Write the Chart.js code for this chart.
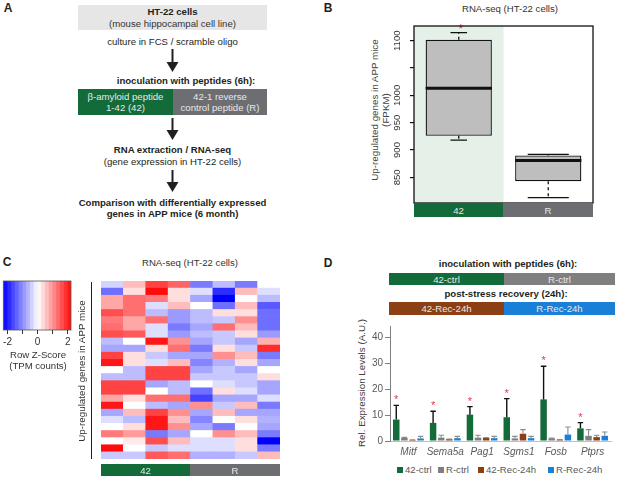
<!DOCTYPE html>
<html><head><meta charset="utf-8">
<script src="https://cdn.jsdelivr.net/npm/chart.js@4.4.1/dist/chart.umd.min.js"></script>
<style>
html,body{margin:0;padding:0;background:#fff;}
body{width:617px;height:480px;position:relative;overflow:hidden;font-family:"Liberation Sans",Arial,Helvetica,sans-serif;color:#231f20;}
.t{position:absolute;white-space:nowrap;transform:translate(-50%,-50%);font-size:9.6px;line-height:1;}
.b{font-weight:bold;}
.L{font-weight:bold;font-size:12px;}
.rot{position:absolute;white-space:nowrap;transform:translate(-50%,-50%) rotate(-90deg);font-size:9.8px;line-height:1;}
.box{position:absolute;}
canvas{position:absolute;}
svg{position:absolute;}
.lg{position:absolute;top:465px;font-size:9.6px;color:#595959;white-space:nowrap;line-height:10px;}
.lg i{display:inline-block;width:6px;height:6px;margin-right:2px;vertical-align:0px;}
</style></head>
<body>
<!-- Panel A -->
<div class="t L" style="left:8px;top:8px">A</div>
<div class="box" style="left:78px;top:5px;width:189px;height:25px;background:#e6e6e7"></div>
<div class="t b" style="left:172.5px;top:12px">HT-22 cells</div>
<div class="t" style="left:172.5px;top:24px;color:#333">(mouse hippocampal cell line)</div>
<div class="t" style="left:172.5px;top:42px">culture in FCS / scramble oligo</div>
<svg style="left:166px;top:49px" width="13" height="24"><line x1="6.5" y1="0" x2="6.5" y2="14" stroke="#231f20" stroke-width="2"/><polygon points="0.5,13 12.5,13 6.5,23" fill="#231f20"/></svg>
<div class="t b" style="left:186px;top:81px">inoculation with peptides (6h):</div>
<div class="box" style="left:78px;top:89px;width:95px;height:26px;background:#146b3a"></div>
<div class="box" style="left:173px;top:89px;width:94px;height:26px;background:#6d6e71"></div>
<div class="t" style="left:125.5px;top:97px;color:#e8e8e8">β-amyloid peptide</div>
<div class="t" style="left:125.5px;top:108px;color:#e8e8e8">1-42 (42)</div>
<div class="t" style="left:220px;top:97px;color:#e8e8e8">42-1 reverse</div>
<div class="t" style="left:220px;top:108px;color:#e8e8e8">control peptide (R)</div>
<svg style="left:166px;top:118px" width="13" height="24"><line x1="6.5" y1="0" x2="6.5" y2="13" stroke="#231f20" stroke-width="2"/><polygon points="0.5,12 12.5,12 6.5,22" fill="#231f20"/></svg>
<div class="t b" style="left:172.5px;top:150px">RNA extraction / RNA-seq</div>
<div class="t" style="left:172.5px;top:162px">(gene expression in HT-22 cells)</div>
<svg style="left:166px;top:170px" width="13" height="24"><line x1="6.5" y1="0" x2="6.5" y2="13" stroke="#231f20" stroke-width="2"/><polygon points="0.5,12 12.5,12 6.5,22" fill="#231f20"/></svg>
<div class="t b" style="left:172.5px;top:203px">Comparison with differentially expressed</div>
<div class="t b" style="left:172.5px;top:214px">genes in APP mice (6 month)</div>

<!-- Panel B -->
<div class="t L" style="left:328px;top:8px">B</div>
<div class="t" style="left:510px;top:9px;color:#333">RNA-seq (HT-22 cells)</div>
<div class="rot" style="left:375px;top:110px;color:#444">Up-regulated genes in APP mice</div>
<div class="rot" style="left:386px;top:110px;color:#444">(FPKM)</div>
<canvas id="cB" width="240" height="190" style="left:360px;top:20px;width:240px;height:190px"></canvas>
<div class="box" style="left:414px;top:203px;width:89px;height:14px;background:#146b3a"></div>
<div class="box" style="left:503px;top:203px;width:90px;height:14px;background:#6d6e71"></div>
<div class="t" style="left:458.5px;top:210.5px;color:#e8e8e8">42</div>
<div class="t" style="left:548px;top:210.5px;color:#e8e8e8">R</div>

<!-- Panel C -->
<div class="t L" style="left:7px;top:262px">C</div>
<div class="t" style="left:190px;top:263px;color:#333">RNA-seq (HT-22 cells)</div>
<canvas id="cKey" width="80" height="71" style="left:0px;top:279px;width:80px;height:71px"></canvas>
<div class="t" style="left:38px;top:355px;color:#333">Row Z-Score</div>
<div class="t" style="left:38px;top:366px;color:#333">(TPM counts)</div>
<div class="box" style="left:91px;top:282px;width:1px;height:177px;background:#231f20"></div>
<div class="rot" style="left:82px;top:371px;color:#333">Up-regulated genes in APP mice</div>
<canvas id="cC" width="179" height="178" style="left:101px;top:281px;width:179px;height:178px"></canvas>
<div class="box" style="left:101px;top:464px;width:89px;height:12px;background:#146b3a"></div>
<div class="box" style="left:190px;top:464px;width:90px;height:12px;background:#6d6e71"></div>
<div class="t" style="left:145.5px;top:470.5px;color:#e8e8e8">42</div>
<div class="t" style="left:235px;top:470.5px;color:#e8e8e8">R</div>

<!-- Panel D -->
<div class="t L" style="left:328px;top:263px">D</div>
<div class="t b" style="left:508px;top:264px">inoculation with peptides (6h):</div>
<div class="box" style="left:389px;top:273px;width:115px;height:12px;background:#146b3a"></div>
<div class="box" style="left:504px;top:273px;width:111px;height:12px;background:#7f7f7f"></div>
<div class="t" style="left:446.5px;top:279.5px;color:#e8e8e8">42-ctrl</div>
<div class="t" style="left:559.5px;top:279.5px;color:#e8e8e8">R-ctrl</div>
<div class="t b" style="left:506px;top:294px">post-stress recovery (24h):</div>
<div class="box" style="left:389px;top:302px;width:115px;height:13px;background:#8b3f12"></div>
<div class="box" style="left:504px;top:302px;width:111px;height:13px;background:#1a7fd6"></div>
<div class="t" style="left:446.5px;top:309px;color:#e8e8e8">42-Rec-24h</div>
<div class="t" style="left:559.5px;top:309px;color:#e8e8e8">R-Rec-24h</div>
<div class="rot" style="left:362px;top:383px;color:#404040">Rel. Expression Levels (A.U.)</div>
<canvas id="cD" width="277" height="143" style="left:340px;top:318px;width:277px;height:143px"></canvas>
<div id="legD"></div>

<script>
// ---------- Panel B data (boxplot, FPKM) ----------
const bGroups = ['42', 'R'];
const bWhiskerLow = [918, 813];
const bQ1 = [926, 843];
const bMedian = [1013, 881];
const bQ3 = [1102, 890];
const bWhiskerHigh = [1115, 892];
const bSignificant = [true, false];
const bTickValues = [850, 900, 950, 1000, 1050, 1100];
const bTickLabels = ['850', '900', '950', '1000', '', '1100'];

// ---------- Panel C data (row z-scores, 8 samples) ----------
const cColumns = ['42-a', '42-b', '42-c', '42-d', 'R-a', 'R-b', 'R-c', 'R-d'];
const cRow01 = [-0.4, 0.6, 1.7, 1.4, -1.2, -0.6, -1.2, 0.0];
const cRow02 = [-1.3, 0.3, 2.2, 0.3, -0.3, -1.9, 0.6, -0.3];
const cRow03 = [0.8, 1.3, 1.2, 0.3, -0.8, -2.3, 0.0, -0.6];
const cRow04 = [0.8, 1.3, -0.3, 0.6, 0.0, -1.3, 0.6, -1.5];
const cRow05 = [1.6, 1.3, -0.6, -0.9, -0.6, 0.3, 0.3, -1.3];
const cRow06 = [1.2, 0.8, 1.3, -0.9, -0.6, -0.5, 1.0, -1.3];
const cRow07 = [1.3, 0.8, -0.3, -1.2, -0.8, 1.3, 0.6, -1.3];
const cRow08 = [1.6, 1.5, -0.3, -0.9, -0.6, -0.5, 0.3, -0.9];
const cRow09 = [-0.6, 0.0, 2.1, 1.0, -0.8, -0.5, -0.8, 0.7];
const cRow10 = [-0.8, -0.8, 0.3, 1.3, -1.2, 0.3, -0.5, 1.9];
const cRow11 = [1.7, 0.3, -0.5, -0.8, -0.8, 1.0, 0.6, -1.2];
const cRow12 = [2.1, 0.3, -0.3, 0.6, -1.1, -0.7, 0.3, -0.8];
const cRow13 = [0.0, -0.6, 1.7, 1.7, -0.8, -0.5, -0.8, 0.0];
const cRow14 = [-0.6, -0.6, 1.7, 1.7, -0.5, -0.5, -0.5, 0.3];
const cRow15 = [1.7, 1.7, -0.8, -0.6, 0.0, -0.3, -0.5, -0.8];
const cRow16 = [1.7, 1.7, 0.0, -0.6, -1.3, 0.3, -0.3, -0.8];
const cRow17 = [0.8, 0.3, 1.3, 1.3, -1.7, -0.8, -0.8, -0.3];
const cRow18 = [2.1, 0.0, -0.6, -0.8, 1.0, -0.5, 0.6, -1.2];
const cRow19 = [-0.8, 0.6, 1.7, 1.0, -0.8, 0.6, -0.8, -0.8];
const cRow20 = [-0.3, -0.6, 2.1, 0.6, -1.1, 0.0, 0.3, -0.7];
const cRow21 = [0.0, 0.3, 2.1, 1.0, -0.8, -1.2, 0.0, -0.8];
const cRow22 = [1.2, 0.9, -1.2, -0.8, 0.0, 1.0, 0.6, -1.2];
const cRow23 = [0.0, 0.2, 1.6, 0.6, -0.3, -0.3, 0.3, -2.3];
const cRow24 = [2.2, 0.0, -0.5, -0.3, -0.3, -0.3, 0.3, -1.2];
const cRow25 = [-0.5, -0.5, 1.5, 1.3, -0.7, -0.7, -0.5, 0.6];
const cRows = [cRow01, cRow02, cRow03, cRow04, cRow05, cRow06, cRow07, cRow08, cRow09, cRow10,
  cRow11, cRow12, cRow13, cRow14, cRow15, cRow16, cRow17, cRow18, cRow19, cRow20,
  cRow21, cRow22, cRow23, cRow24, cRow25];
const cKeyTickValues = [-2, -1, 0, 1, 2];
const cKeyTickLabels = ['-2', '', '0', '', '2'];
const cKeyMin = -2.28, cKeyMax = 2.22;

// ---------- Panel D data (qPCR, mean and upper error) ----------
const dGenes = ['Mitf', 'Sema5a', 'Pag1', 'Sgms1', 'Fosb', 'Ptprs'];
const dSeriesNames = ['42-ctrl', 'R-ctrl', '42-Rec-24h', 'R-Rec-24h'];
const d42ctrl = [8.3, 7.0, 10.2, 9.2, 16.1, 4.9];
const d42ctrlErr = [5.5, 4.5, 3.1, 7.2, 12.8, 2.2];
const dRctrl = [1.2, 1.3, 1.3, 1.0, 1.0, 2.0];
const dRctrlErr = [0.2, 0.9, 0.9, 0.8, 0.1, 2.4];
const d42Rec = [0.4, 0.7, 1.2, 2.8, 0.5, 1.5];
const d42RecErr = [0.1, 0.1, 0.1, 1.6, 0.1, 0.7];
const dRRec = [1.0, 1.1, 1.1, 1.1, 2.5, 2.0];
const dRRecErr = [0.8, 0.7, 0.7, 0.7, 2.9, 1.5];
const dSignificant = [true, true, true, true, true, true];
const dTickValues = [0, 10, 20, 30, 40];

// ---------- helpers ----------
function zColor(z) {
  const t = Math.max(-1, Math.min(1, z / 2.3));
  if (t < 0) { const v = Math.round(255 * (1 + t)); return `rgb(${v},${v},255)`; }
  const v = Math.round(255 * (1 - t)); return `rgb(255,${v},${v})`;
}
const FONT = '"Liberation Sans", Arial, sans-serif';
Chart.defaults.font.family = FONT;
Chart.defaults.animation = false;
const base = { responsive: false, devicePixelRatio: 1, animation: false,
  plugins: { legend: { display: false }, tooltip: { enabled: false } } };

// ---------- Chart B ----------
const bStaple = [0.25, 0.62];
const boxPlugin = {
  id: 'boxPlugin',
  beforeDatasetsDraw(chart) {
    const { ctx, chartArea: a, scales: { x } } = chart;
    ctx.save();
    ctx.fillStyle = '#e4f0e8';
    ctx.fillRect(a.left, a.top, x.getPixelForValue(0.5) - a.left, a.bottom - a.top);
    ctx.restore();
  },
  afterDatasetsDraw(chart) {
    const { ctx, chartArea: a, scales: { y } } = chart;
    const meta = chart.getDatasetMeta(0);
    ctx.save();
    meta.data.forEach((el, i) => {
      const cx = el.x, w = el.width;
      const yq1 = y.getPixelForValue(bQ1[i]), yq3 = y.getPixelForValue(bQ3[i]);
      const ylo = y.getPixelForValue(bWhiskerLow[i]), yhi = y.getPixelForValue(bWhiskerHigh[i]);
      ctx.strokeStyle = '#111'; ctx.lineWidth = 1.3;
      ctx.setLineDash([3, 3]);
      ctx.beginPath(); ctx.moveTo(cx, yq3); ctx.lineTo(cx, yhi); ctx.moveTo(cx, yq1); ctx.lineTo(cx, ylo); ctx.stroke();
      ctx.setLineDash([]);
      const sw = w * bStaple[i] / 2;
      ctx.beginPath(); ctx.moveTo(cx - sw, yhi); ctx.lineTo(cx + sw, yhi); ctx.moveTo(cx - sw, ylo); ctx.lineTo(cx + sw, ylo); ctx.stroke();
      ctx.lineWidth = 3;
      const ym = y.getPixelForValue(bMedian[i]);
      ctx.beginPath(); ctx.moveTo(cx - w / 2, ym); ctx.lineTo(cx + w / 2, ym); ctx.stroke();
      if (bSignificant[i]) {
        ctx.fillStyle = '#e8344e'; ctx.font = '12px ' + FONT; ctx.textAlign = 'center'; ctx.textBaseline = 'middle';
        ctx.fillText('*', cx + 2, yhi - 3);
      }
    });
    ctx.lineWidth = 1.3; ctx.strokeStyle = '#111';
    ctx.strokeRect(a.left, a.top, a.right - a.left, a.bottom - a.top);
    ctx.fillStyle = '#333'; ctx.font = '9.6px ' + FONT; ctx.textAlign = 'center'; ctx.textBaseline = 'middle';
    bTickValues.forEach((v, i) => {
      if (!bTickLabels[i]) return;
      ctx.save();
      ctx.translate(a.left - 17, y.getPixelForValue(v));
      ctx.rotate(-Math.PI / 2);
      ctx.fillText(bTickLabels[i], 0, 0);
      ctx.restore();
    });
    ctx.restore();
  }
};
new Chart(document.getElementById('cB'), {
  type: 'bar',
  data: { labels: bGroups, datasets: [{ data: bGroups.map((g, i) => [bQ1[i], bQ3[i]]),
    backgroundColor: '#bebebe', borderColor: '#111', borderWidth: 1.3, borderSkipped: false,
    barPercentage: 0.74, categoryPercentage: 1 }] },
  options: { ...base,
    layout: { padding: { top: 6, right: 7, bottom: 7, left: 0 } },
    scales: {
      x: { display: false },
      y: { min: 803, max: 1127,
        afterFit: s => { s.width = 54; },
        afterBuildTicks: s => { s.ticks = bTickValues.map(v => ({ value: v })); },
        ticks: { display: false },
        grid: { drawOnChartArea: false, drawTicks: true, tickLength: 4, color: '#111', lineWidth: 1.2 },
        border: { display: false } }
    } },
  plugins: [boxPlugin]
});

// ---------- Color key (C) ----------
const keyBins = [];
for (let k = 0; k < 18; k++) keyBins.push(cKeyMin + k * (cKeyMax - cKeyMin) / 18);
const keyBorder = { id: 'keyBorder', afterDatasetsDraw(chart) {
  const { ctx, chartArea: a } = chart; ctx.save(); ctx.strokeStyle = '#555'; ctx.lineWidth = 0.8;
  ctx.strokeRect(a.left, a.top, a.right - a.left, a.bottom - a.top); ctx.restore(); } };
const binW = (cKeyMax - cKeyMin) / 18;
new Chart(document.getElementById('cKey'), {
  type: 'bar',
  data: { labels: ['key'], datasets: keyBins.map(lo => ({ data: [[lo, lo + binW]],
    backgroundColor: zColor(lo + binW / 2), borderWidth: 0, barPercentage: 1, categoryPercentage: 1, grouped: false })) },
  options: { ...base, indexAxis: 'y',
    layout: { padding: { top: 2, left: 3.3, right: 9, bottom: 0 } },
    scales: {
      y: { display: false },
      x: { min: cKeyMin, max: cKeyMax,
        afterBuildTicks: s => { s.ticks = cKeyTickValues.map(v => ({ value: v })); },
        afterFit: s => { s.height = 20; },
        ticks: { callback: (v, i) => cKeyTickLabels[i], color: '#333', font: { size: 10 }, padding: 2, maxRotation: 0, autoSkip: false },
        grid: { drawOnChartArea: false, tickLength: 4, color: '#333' },
        border: { display: false } }
    } },
  plugins: [keyBorder]
});

// ---------- Heatmap C ----------
new Chart(document.getElementById('cC'), {
  type: 'bar',
  data: { labels: cColumns, datasets: cRows.slice().reverse().map(r => ({
    data: r.map(() => 1), backgroundColor: r.map(zColor), borderWidth: 0,
    barPercentage: 1, categoryPercentage: 1 })) },
  options: { ...base, layout: { padding: 0 },
    scales: { x: { display: false, stacked: true }, y: { display: false, stacked: true, min: 0, max: cRows.length } } }
});

// ---------- Chart D ----------
const dColors = ['#146b3a', '#7f7f7f', '#8b3f12', '#1a7fd6'];
const dErrColors = ['#111', '#8c8c8c', '#8c8c8c', '#8c8c8c'];
const dValues = [d42ctrl, dRctrl, d42Rec, dRRec];
const dErrs = [d42ctrlErr, dRctrlErr, d42RecErr, dRRecErr];
const errPlugin = { id: 'errPlugin', afterDatasetsDraw(chart) {
  const { ctx, scales: { y } } = chart;
  ctx.save();
  chart.data.datasets.forEach((ds, di) => {
    const meta = chart.getDatasetMeta(di);
    meta.data.forEach((el, j) => {
      const top = y.getPixelForValue(dValues[di][j] + dErrs[di][j]);
      const hw = el.width * 0.42;
      ctx.strokeStyle = dErrColors[di]; ctx.lineWidth = di === 0 ? 1.4 : 1.1;
      ctx.beginPath(); ctx.moveTo(el.x, el.y); ctx.lineTo(el.x, top);
      ctx.moveTo(el.x - hw, top); ctx.lineTo(el.x + hw, top); ctx.stroke();
      if (di === 0 && dSignificant[j]) {
        ctx.fillStyle = '#e8344e'; ctx.font = '11px ' + FONT; ctx.textAlign = 'center'; ctx.textBaseline = 'middle';
        ctx.fillText('*', el.x, top - 5);
      }
    });
  });
  ctx.restore();
} };
new Chart(document.getElementById('cD'), {
  type: 'bar',
  data: { labels: dGenes, datasets: dSeriesNames.map((n, i) => ({ label: n, data: dValues[i],
    backgroundColor: dColors[i], borderWidth: 0, barPercentage: 0.8, categoryPercentage: 0.88 })) },
  options: { ...base,
    layout: { padding: { top: 4, right: 6, left: 0, bottom: 0 } },
    scales: {
      x: { grid: { display: false, drawTicks: false }, border: { color: '#bfbfbf' },
        afterFit: s => { s.height = 20; },
        ticks: { color: '#595959', font: { size: 10, style: 'italic' }, padding: 5, maxRotation: 0, autoSkip: false } },
      y: { min: 0, max: 44.5,
        afterBuildTicks: s => { s.ticks = dTickValues.map(v => ({ value: v })); },
        afterFit: s => { s.width = 50; },
        ticks: { color: '#595959', font: { size: 10 }, padding: 2 },
        grid: { drawOnChartArea: false, tickLength: 5, color: '#7f7f7f' },
        border: { color: '#7f7f7f' } }
    } },
  plugins: [errPlugin]
});

// legend D
const legPos = [397, 438, 478, 548];
const leg = document.getElementById('legD');
dSeriesNames.forEach((n, i) => {
  const d = document.createElement('div'); d.className = 'lg'; d.style.left = legPos[i] + 'px';
  d.innerHTML = `<i style="background:${dColors[i]}"></i>${n}`; leg.appendChild(d);
});
</script>
</body></html>
